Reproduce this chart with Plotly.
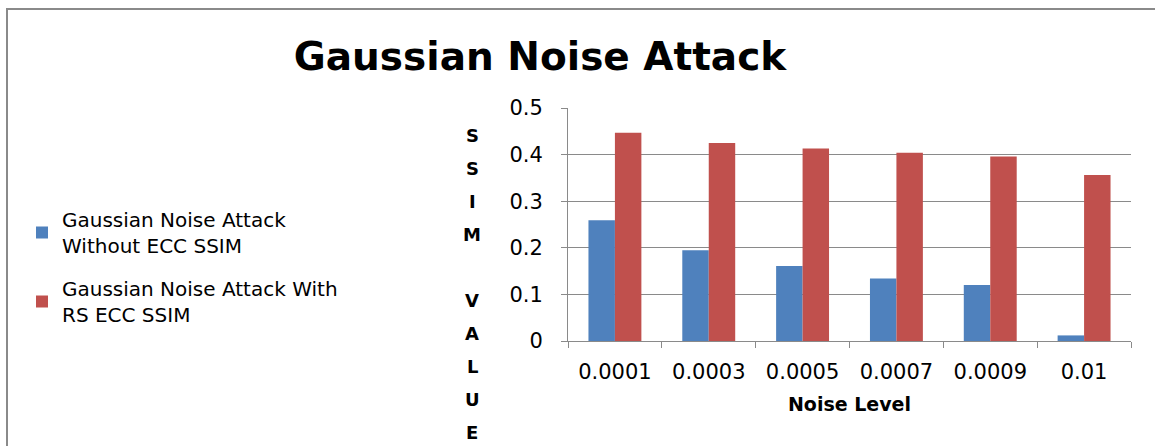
import plotly.graph_objects as go

# Data
noise_levels = ["0.0001", "0.0003", "0.0005", "0.0007", "0.0009", "0.01"]
ssim_without_ecc = [0.259, 0.195, 0.161, 0.134, 0.120, 0.012]
ssim_with_rs_ecc = [0.447, 0.425, 0.413, 0.404, 0.396, 0.356]
series_names = [
    "Gaussian Noise Attack<br>Without ECC SSIM",
    "Gaussian Noise Attack With<br>RS ECC SSIM",
]
y_ticks = [0, 0.1, 0.2, 0.3, 0.4, 0.5]
y_title_letters = ["S", "S", "I", "M", "", "V", "A", "L", "U", "E"]

W, H = 1155, 446
L, R, T, B = 568, 24, 108, 105
FONT = "DejaVu Sans"

fig = go.Figure()
fig.add_trace(go.Bar(x=noise_levels, y=ssim_without_ecc, name=series_names[0],
                     legendgroup="a",
                     marker=dict(color="#4F81BD", line=dict(width=0))))
fig.add_trace(go.Bar(x=noise_levels, y=ssim_with_rs_ecc, name=series_names[1],
                     legendgroup="b",
                     marker=dict(color="#C0504D", line=dict(width=0))))

# Vertical stacked axis title, one letter per row
plot_h = H - T - B
plot_w = W - L - R
letter_x_px = 472
first_y_px, step_px = 135, 33.0
annotations = []
for i, ch in enumerate(y_title_letters):
    if not ch:
        continue
    ypx = first_y_px + i * step_px
    annotations.append(dict(
        text=ch, xref="paper", yref="paper",
        x=(letter_x_px - L) / plot_w, y=(H - B - ypx) / plot_h,
        xanchor="center", yanchor="middle", showarrow=False,
        font=dict(family=FONT, size=18, color="black", weight="bold"),
    ))

fig.update_layout(
    width=W, height=H,
    margin=dict(l=L, r=R, t=T, b=B),
    paper_bgcolor="white", plot_bgcolor="white",
    barmode="group", bargap=0.436, bargroupgap=0,
    font=dict(family=FONT, size=20, color="black"),
    title=dict(text="<b>Gaussian Noise Attack</b>", x=540 / W, xanchor="center",
               y=1 - 56 / H, yanchor="middle",
               font=dict(family=FONT, size=39, color="black")),
    legend=dict(xref="container", yref="container", x=22 / W, y=1 - 200 / H,
                xanchor="left", yanchor="top", bgcolor="rgba(0,0,0,0)",
                traceorder="grouped", tracegroupgap=14,
                font=dict(family=FONT, size=20, color="black"),
                itemwidth=30),
    annotations=annotations,
    shapes=[dict(type="rect", xref="paper", yref="paper",
                 x0=-(L - 7) / plot_w, x1=(plot_w + R + 5) / plot_w,
                 y0=-(B + 5) / plot_h, y1=(plot_h + T - 9) / plot_h,
                 line=dict(color="#8a8a8a", width=2), layer="below")],
)

fig.update_xaxes(
    showline=True, linecolor="#8a8a8a", linewidth=1,
    ticks="outside", tickson="boundaries", ticklen=6, tickcolor="#8a8a8a",
    ticklabelstandoff=12,
    tickfont=dict(family=FONT, size=21, color="black"),
    title=dict(text="<b>Noise Level</b>", standoff=14,
               font=dict(family=FONT, size=19, color="black")),
    showgrid=False,
)
fig.update_yaxes(
    range=[0, 0.5], tickvals=y_ticks, ticktext=[f"{v:g}" for v in y_ticks],
    showline=True, linecolor="#8a8a8a", linewidth=1,
    ticks="outside", ticklen=6, tickcolor="#8a8a8a",
    ticklabelstandoff=14,
    showgrid=True, gridcolor="#8a8a8a", gridwidth=1,
    tickfont=dict(family=FONT, size=21, color="black"),
    zeroline=False,
)

fig.write_html("out.html")
